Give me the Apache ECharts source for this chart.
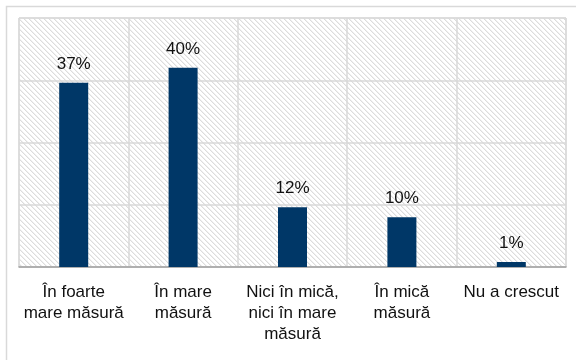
<!DOCTYPE html>
<html>
<head>
<meta charset="utf-8">
<script src="https://cdn.jsdelivr.net/npm/echarts@6/dist/echarts.min.js"></script>
<style>
  html, body { margin: 0; padding: 0; background: #ffffff; }
  #chart { width: 576px; height: 360px; }
</style>
</head>
<body>
<div id="chart"></div>
<script>
// Answer categories (multi-line axis labels)
const categories = [
  'În foarte\nmare măsură',
  'În mare\nmăsură',
  'Nici în mică,\nnici în mare\nmăsură',
  'În mică\nmăsură',
  'Nu a crescut'
];
// Share of respondents, percent
const shares = [37, 40, 12, 10, 1];

// Light diagonal hatch used as the plot background
function makeHatch() {
  const n = 5;
  const c = document.createElement('canvas');
  c.width = n; c.height = n;
  const g = c.getContext('2d');
  g.fillStyle = '#ffffff';
  g.fillRect(0, 0, n, n);
  for (let i = 0; i < n; i++) {
    g.fillStyle = '#dcdcdc';
    g.fillRect(i, i, 1, 1);
    g.fillStyle = '#f0f0f0';
    g.fillRect((i + 1) % n, i, 1, 1);
  }
  return c;
}

const chart = echarts.init(document.getElementById('chart'), null, { renderer: 'canvas' });
const font = 'Liberation Sans, Arial, sans-serif';

chart.setOption({
  animation: false,
  backgroundColor: '#ffffff',
  graphic: [{
    type: 'rect',
    shape: { x: 6.5, y: 6.5, width: 600, height: 400 },
    style: { fill: 'none', stroke: '#d9d9d9', lineWidth: 1.5 },
    silent: true,
    z: -10
  }],
  grid: {
    left: 19, top: 18, right: 10, bottom: 93,
    show: true,
    borderColor: '#d9d9d9',
    borderWidth: 1,
    backgroundColor: { image: makeHatch(), repeat: 'repeat' }
  },
  xAxis: {
    type: 'category',
    data: categories,
    axisTick: { show: false },
    axisLine: { lineStyle: { color: '#a0a0a0', width: 1.5 } },
    splitLine: { show: true, lineStyle: { color: '#d9d9d9', width: 1.5 } },
    axisLabel: {
      color: '#111111',
      fontFamily: font,
      fontSize: 17,
      lineHeight: 21,
      margin: 15,
      interval: 0
    }
  },
  yAxis: {
    type: 'value',
    min: 0,
    max: 50,
    interval: 12.5,
    axisLabel: { show: false },
    axisLine: { show: false },
    axisTick: { show: false },
    splitLine: { lineStyle: { color: '#d9d9d9', width: 1.5 } }
  },
  series: [{
    type: 'bar',
    data: shares,
    barWidth: 29,
    itemStyle: { color: '#003767' },
    label: {
      show: true,
      position: 'top',
      distance: 10,
      formatter: '{c}%',
      color: '#111111',
      fontFamily: font,
      fontSize: 17
    }
  }]
});
</script>
</body>
</html>
